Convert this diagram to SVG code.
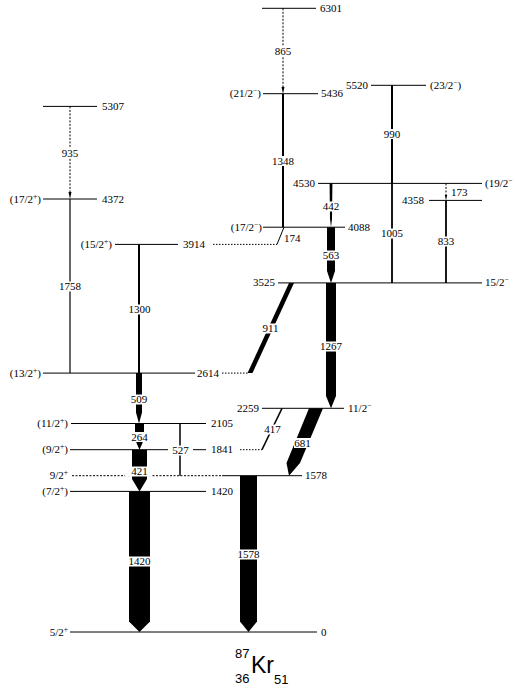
<svg xmlns="http://www.w3.org/2000/svg" width="516" height="689" viewBox="0 0 516 689">
<style>
.lv{stroke:#000;stroke-width:1;fill:none}
.tr{stroke:#000;fill:none}
.dsh{stroke-dasharray:2,1.5}
.dot{stroke:#000;stroke-width:1;stroke-dasharray:1.5,1.5;fill:none}
.ar{fill:#000;stroke:none}
.lb{font-family:"Liberation Serif","Times New Roman",serif;font-size:11px;fill:#000}
.c{text-anchor:middle}
.e{text-anchor:end}
.sp{font-size:7.5px}
.bg{fill:#fff;stroke:none}
.kr{font-family:"Liberation Sans",Arial,sans-serif;fill:#000}
</style>
<rect width="516" height="689" fill="#fff"/>

<g id="levels">
<g id="lv6301"><line class="lv" x1="262" y1="8.3" x2="316" y2="8.3"/><text class="lb" x="320" y="11.8">6301</text></g>
<g id="lv5520"><line class="lv" x1="371" y1="85.3" x2="426" y2="85.3"/><text class="lb e" x="368" y="88.8">5520</text><text class="lb" x="430" y="88.8">(23/2<tspan class="sp" dy="-4">−</tspan><tspan dy="4">)</tspan></text></g>
<g id="lv5436"><line class="lv" x1="263" y1="93.7" x2="318" y2="93.7"/><text class="lb e" x="261" y="97.2">(21/2<tspan class="sp" dy="-4">−</tspan><tspan dy="4">)</tspan></text><text class="lb" x="321" y="97.2">5436</text></g>
<g id="lv5307"><line class="lv" x1="43" y1="106.4" x2="97" y2="106.4"/><text class="lb" x="102" y="109.9">5307</text></g>
<g id="lv4530"><line class="lv" x1="318" y1="183.4" x2="482" y2="183.4"/><text class="lb e" x="315" y="186.9">4530</text><text class="lb" x="485" y="186.9">(19/2<tspan class="sp" dy="-4">−</tspan></text></g>
<g id="lv4372"><line class="lv" x1="43" y1="199" x2="97" y2="199"/><text class="lb e" x="41" y="202.5">(17/2<tspan class="sp" dy="-4">+</tspan><tspan dy="4">)</tspan></text><text class="lb" x="102" y="202.5">4372</text></g>
<g id="lv4358"><line class="lv" x1="429" y1="200.4" x2="482" y2="200.4"/><text class="lb e" x="424" y="203.9">4358</text></g>
<g id="lv4088"><line class="lv" x1="263" y1="227.2" x2="345" y2="227.2"/><text class="lb e" x="262" y="230.7">(17/2<tspan class="sp" dy="-4">−</tspan><tspan dy="4">)</tspan></text><text class="lb" x="348" y="230.7">4088</text></g>
<g id="lv3914"><line class="lv" x1="115" y1="244.4" x2="178" y2="244.4"/><line class="dot" x1="213" y1="244.4" x2="277" y2="244.4"/><text class="lb e" x="112" y="247.9">(15/2<tspan class="sp" dy="-4">+</tspan><tspan dy="4">)</tspan></text><text class="lb" x="183" y="247.9">3914</text></g>
<g id="lv3525"><line class="lv" x1="278" y1="282.9" x2="482" y2="282.9"/><text class="lb e" x="275" y="286.4">3525</text><text class="lb" x="485" y="286.4">15/2<tspan class="sp" dy="-4">−</tspan></text></g>
<g id="lv2614"><line class="lv" x1="43" y1="373.1" x2="195" y2="373.1"/><line class="dot" x1="222" y1="373.1" x2="249" y2="373.1"/><text class="lb e" x="41" y="376.6">(13/2<tspan class="sp" dy="-4">+</tspan><tspan dy="4">)</tspan></text><text class="lb" x="197" y="376.6">2614</text></g>
<g id="lv2259"><line class="lv" x1="262" y1="408.3" x2="344" y2="408.3"/><text class="lb e" x="259" y="411.8">2259</text><text class="lb" x="348" y="411.8">11/2<tspan class="sp" dy="-4">−</tspan></text></g>
<g id="lv2105"><line class="lv" x1="71" y1="423.5" x2="206" y2="423.5"/><text class="lb e" x="68" y="427">(11/2<tspan class="sp" dy="-4">+</tspan><tspan dy="4">)</tspan></text><text class="lb" x="211" y="427">2105</text></g>
<g id="lv1841"><line class="lv" x1="70" y1="449.7" x2="206" y2="449.7"/><line class="dot" x1="240" y1="449.7" x2="262" y2="449.7"/><text class="lb e" x="68" y="453.2">(9/2<tspan class="sp" dy="-4">+</tspan><tspan dy="4">)</tspan></text><text class="lb" x="211" y="453.2">1841</text></g>
<g id="lv1578"><line class="lv dsh" x1="72" y1="475.7" x2="222" y2="475.7"/><line class="lv" x1="222" y1="475.7" x2="302" y2="475.7"/><text class="lb e" x="68" y="479.2">9/2<tspan class="sp" dy="-4">+</tspan></text><text class="lb" x="305" y="479.2">1578</text></g>
<g id="lv1420"><line class="lv" x1="70" y1="491.4" x2="206" y2="491.4"/><text class="lb e" x="68" y="494.9">(7/2<tspan class="sp" dy="-4">+</tspan><tspan dy="4">)</tspan></text><text class="lb" x="211" y="494.9">1420</text></g>
<g id="lv0"><line class="lv" x1="70" y1="632" x2="317" y2="632"/><text class="lb e" x="68" y="635.5">5/2<tspan class="sp" dy="-4">+</tspan></text><text class="lb" x="321" y="635.5">0</text></g>
</g>

<g id="connectors">
<!-- thin / dashed -->
<line class="tr dsh" stroke-width="1" x1="283" y1="8.3" x2="283" y2="87"/><polygon class="ar" points="281.5,87 284.5,87 283,93.7"/>
<line class="tr" stroke-width="2" x1="283" y1="93.7" x2="283" y2="227.2"/>
<line class="tr" stroke-width="2" x1="392" y1="85.3" x2="392" y2="183.4"/>
<polygon class="ar" points="329.6,183.4 332.4,183.4 332,219 331,227.2 330,219"/>
<line class="tr dsh" stroke-width="1" x1="446" y1="183.4" x2="446" y2="195"/><polygon class="ar" points="444.8,195 447.2,195 446,200.4"/>
<line class="tr" stroke-width="1.8" x1="392" y1="183.4" x2="392" y2="282.9"/>
<line class="tr" stroke-width="1.8" x1="446" y1="200.4" x2="446" y2="282.9"/>
<line class="tr" stroke-width="1" x1="284" y1="227.2" x2="277" y2="244.4"/>
<line class="tr dsh" stroke-width="1" x1="70" y1="106.4" x2="70" y2="192"/><polygon class="ar" points="68.5,192 71.5,192 70,199"/>
<line class="tr" stroke-width="1.2" x1="70" y1="199" x2="70" y2="373.1"/>
<line class="tr" stroke-width="2" x1="139" y1="244.4" x2="139" y2="373.1"/>
<line class="tr" stroke-width="1.5" x1="180" y1="423.5" x2="180" y2="475.7"/>
<line class="tr" stroke-width="1.5" x1="262" y1="449.7" x2="282" y2="408.3"/>
<!-- thick -->
<polygon class="ar" points="327,227.2 335,227.2 335,271 331,282.9 327,271"/>
<polygon class="ar" points="326,282.9 336,282.9 336,396 331,408.3 326,396"/>
<polygon class="ar" points="289,282.9 294,282.9 252.5,373.1 247.5,373.1"/>
<polygon class="ar" points="309,408.3 323,408.3 300,463 289,475.7 286.5,463"/>
<polygon class="ar" points="136,373.1 142,373.1 142,412.5 139,423.5 136,412.5"/>
<polygon class="ar" points="135,423.5 144,423.5 144,436 142.5,443 139.5,449.7 136.5,443 135,436"/>
<polygon class="ar" points="132,449.7 147,449.7 147,479 139.5,491.4 132,479"/>
<polygon class="ar" points="129,491.4 150,491.4 150,621.5 139.5,632 129,621.5"/>
<polygon class="ar" points="240,475.7 257,475.7 257,621.5 248.5,632 240,621.5"/>
<!-- label backgrounds -->
<rect class="bg" x="274.5" y="46" width="17" height="10"/>
<rect class="bg" x="272" y="156" width="22" height="10"/>
<rect class="bg" x="383.5" y="129" width="17" height="10"/>
<rect class="bg" x="322.5" y="201.5" width="17" height="10"/>
<rect class="bg" x="381" y="228.5" width="22" height="10"/>
<rect class="bg" x="437.5" y="236.5" width="17" height="10"/>
<rect class="bg" x="322.5" y="250.5" width="17" height="10"/>
<rect class="bg" x="61.5" y="148" width="17" height="10"/>
<rect class="bg" x="59" y="281.5" width="22" height="10"/>
<rect class="bg" x="128.5" y="304.5" width="22" height="10"/>
<rect class="bg" x="262" y="323.5" width="17" height="10"/>
<rect class="bg" x="320" y="341.5" width="22" height="10"/>
<rect class="bg" x="130.5" y="394.5" width="17" height="10"/>
<rect class="bg" x="131" y="432" width="17" height="10"/>
<rect class="bg" x="168" y="445.5" width="25" height="10"/>
<rect class="bg" x="125" y="466.5" width="27" height="10"/>
<rect class="bg" x="264" y="424.5" width="17" height="10"/>
<rect class="bg" x="294" y="438" width="17" height="10"/>
<rect class="bg" x="128.5" y="556.5" width="22" height="10"/>
<rect class="bg" x="237.5" y="549.5" width="22" height="10"/>
<!-- labels -->
<text class="lb c" x="283" y="55">865</text>
<text class="lb c" x="283" y="164.5">1348</text>
<text class="lb c" x="392" y="137.5">990</text>
<text class="lb c" x="331" y="210">442</text>
<text class="lb" x="451" y="195.5">173</text>
<text class="lb c" x="392" y="237">1005</text>
<text class="lb c" x="446" y="245">833</text>
<text class="lb" x="284" y="242">174</text>
<text class="lb c" x="331" y="259">563</text>
<text class="lb c" x="70" y="156.5">935</text>
<text class="lb c" x="70" y="290">1758</text>
<text class="lb c" x="139.5" y="313">1300</text>
<text class="lb c" x="270.5" y="332">911</text>
<text class="lb c" x="331" y="350">1267</text>
<text class="lb c" x="139" y="403">509</text>
<text class="lb c" x="139.5" y="440.5">264</text>
<text class="lb c" x="180.5" y="454">527</text>
<text class="lb c" x="139.5" y="475">421</text>
<text class="lb c" x="272.5" y="433">417</text>
<text class="lb c" x="302.5" y="446.5">681</text>
<text class="lb c" x="139.5" y="565">1420</text>
<text class="lb c" x="248.5" y="558">1578</text>
</g>

<g id="nucleus">
<text class="kr" font-size="13" x="235" y="658">87</text>
<text class="kr" font-size="23" x="251" y="673">Kr</text>
<text class="kr" font-size="13" x="235" y="683">36</text>
<text class="kr" font-size="13" x="274" y="684">51</text>
</g>
</svg>
